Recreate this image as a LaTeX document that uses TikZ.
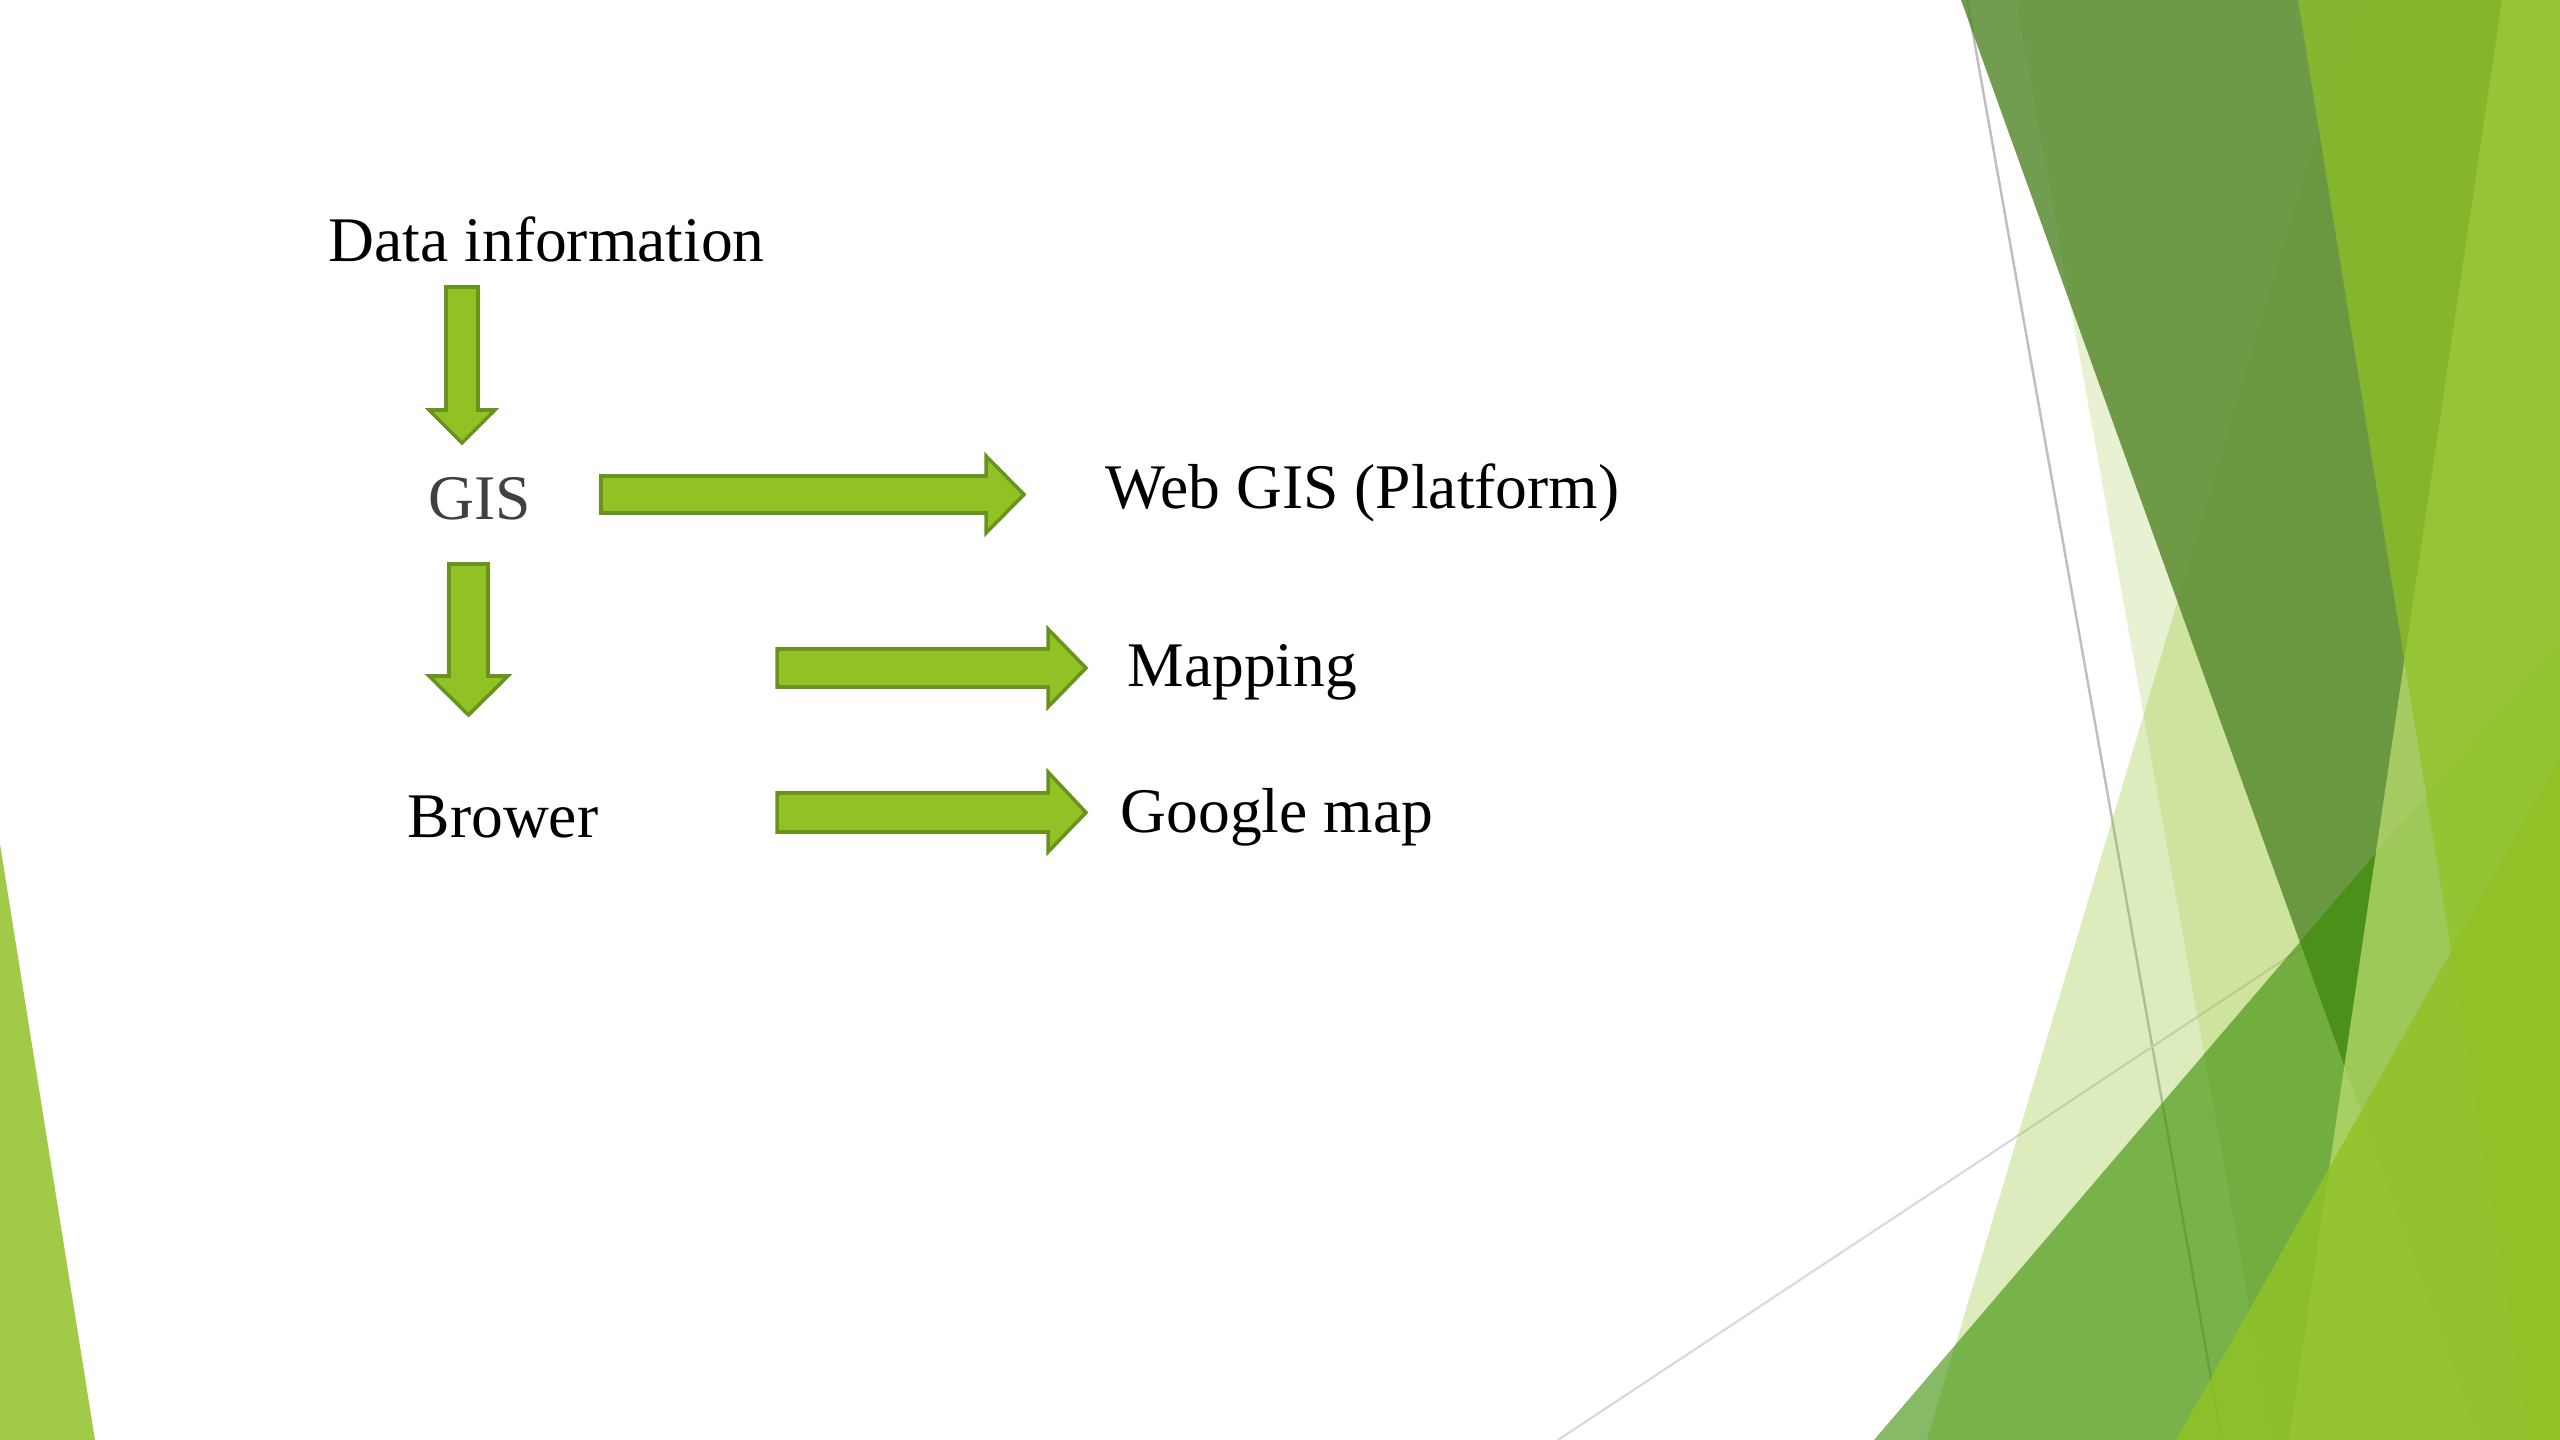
\documentclass[tikz,border=0pt]{standalone}
\usepackage{fontspec}
\setmainfont{Liberation Serif}
\definecolor{accent}{RGB}{144,194,38}
\definecolor{arrowline}{RGB}{106,146,30}
\definecolor{gistext}{RGB}{64,64,64}
\definecolor{darkfacet}{RGB}{87,138,46}
\definecolor{midfacet}{RGB}{54,140,0}
\definecolor{lightfacet}{RGB}{186,221,111}
\definecolor{leftfacet}{RGB}{161,202,72}
\definecolor{grayA}{RGB}{191,191,191}
\definecolor{grayB}{RGB}{217,217,217}
\begin{document}
\begin{tikzpicture}[x=0.01cm,y=-0.01cm,
  lbl/.style={anchor=base west,inner sep=0pt,font=\fontsize{18.07}{21.7}\selectfont},
  blockarrow/.style={fill=accent,draw=arrowline,line width=1pt,line join=miter},
  facet/.style={draw=none}]
\fill[white] (0,0) rectangle (2560,1440);
\useasboundingbox (0,0) rectangle (2560,1440);
% thin grey lines of the background
\coordinate (g1a) at (1967,0);
\coordinate (g1b) at (2222,1440);
\coordinate (g2a) at (1558,1440);
\coordinate (g2b) at (2560,777);
\draw[grayA,line width=0.7pt] (g1a) -- (g1b);
\draw[grayB,line width=0.6pt] (g2a) -- (g2b);
% facets
\fill[facet,accent,fill opacity=0.3] (2357,0) -- (2560,0) -- (2560,1440) -- (1927,1440) -- cycle;
\fill[facet,accent,fill opacity=0.2] (2016,0) -- (2560,0) -- (2560,1440) -- (2273,1440) -- cycle;
\fill[facet,darkfacet,fill opacity=0.84] (1961,0) -- (2560,0) -- (2560,1440) -- (2479,1440) -- cycle;
\fill[facet,midfacet,fill opacity=0.6] (1874,1440) -- (2560,638) -- (2560,1440) -- cycle;
\fill[facet,lightfacet,fill opacity=0.74] (2502,0) -- (2560,0) -- (2560,1440) -- (2289,1440) -- cycle;
\fill[facet,accent,fill opacity=0.7] (2298,0) -- (2560,0) -- (2560,1440) -- (2530,1440) -- cycle;
\fill[facet,accent,fill opacity=0.82] (2176,1440) -- (2560,758) -- (2560,1440) -- cycle;
\fill[facet,leftfacet] (0,844) -- (95,1440) -- (0,1440) -- cycle;
% labels
\node[lbl] (data) at (328,262) {Data information};
\node[lbl,text=gistext] (gis) at (428,520) {GIS};
\node[lbl] (web) at (1105,509) {Web GIS (Platform)};
\node[lbl] (map) at (1127,687) {Mapping};
\node[lbl] (brow) at (407,838) {Brower};
\node[lbl] (goog) at (1120,833) {Google map};
% block arrows
\draw[blockarrow] (446,287) -- (478,287) -- (478,410) -- (495,410) -- (462,443) -- (429,410) -- (446,410) -- cycle;
\draw[blockarrow] (601,476) -- (986,476) -- (986,456) -- (1024,494.5) -- (986,533) -- (986,513) -- (601,513) -- cycle;
\draw[blockarrow] (449,564) -- (488,564) -- (488,676) -- (508,676) -- (468.5,715) -- (429,676) -- (449,676) -- cycle;
\draw[blockarrow] (777,649) -- (1048,649) -- (1048,629) -- (1086,668) -- (1048,707) -- (1048,687) -- (777,687) -- cycle;
\draw[blockarrow] (777,793) -- (1048,793) -- (1048,772) -- (1086,812.5) -- (1048,852) -- (1048,832) -- (777,832) -- cycle;
\end{tikzpicture}
\end{document}
